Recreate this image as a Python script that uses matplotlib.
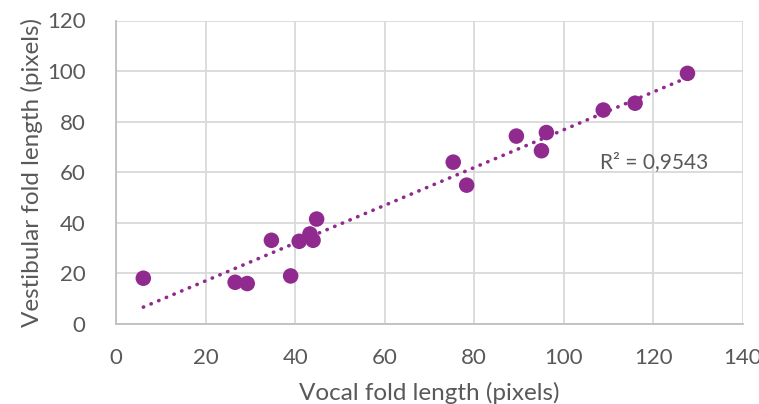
import matplotlib
matplotlib.use("Agg")
import matplotlib.pyplot as plt
import numpy as np

vocal = [6.1, 26.6, 29.3, 34.7, 39.0, 40.9, 43.3, 44.0, 44.8, 75.3, 78.3, 89.4, 95.0, 96.1, 108.8, 115.9, 127.6]
vestibular = [18.1, 16.5, 16.0, 33.1, 19.0, 32.7, 35.6, 33.1, 41.5, 64.0, 54.9, 74.3, 68.5, 75.7, 84.6, 87.3, 99.1]
x_ticks = [0, 20, 40, 60, 80, 100, 120, 140]
y_ticks = [0, 20, 40, 60, 80, 100, 120]
r2_label = "R² = 0,9543"

plt.rcParams['font.family'] = ['Lato', 'DejaVu Sans']
gray = '#595959'
purple = '#912A8F'

fig = plt.figure(figsize=(7.59, 4.04), dpi=100)
ax = fig.add_axes([116/759, 1-324/404, (743-116)/759, (324-20.5)/404])

x = np.array(vocal); y = np.array(vestibular)
m, b = np.polyfit(x, y, 1)
xs = np.array([x.min(), x.max()])
ax.plot(xs, m*xs + b, color=purple, lw=2.6, linestyle=(0, (0.1, 2.2)), dash_capstyle='round', solid_capstyle='round', zorder=2)
ax.scatter(x, y, s=125, color=purple, edgecolors='none', zorder=3)

ax.set_xlim(0, 140); ax.set_ylim(0, 120)
ax.set_xticks(x_ticks); ax.set_yticks(y_ticks)
ax.grid(True, color='#d9d9d9', lw=1.3)
ax.set_axisbelow(True)
for s in ['top', 'right']:
    ax.spines[s].set_visible(False)
for s in ['left', 'bottom']:
    ax.spines[s].set_color('#bfbfbf'); ax.spines[s].set_linewidth(1.3)
ax.tick_params(length=0, labelsize=16, labelcolor=gray)
ax.tick_params(axis='x', pad=17)
ax.tick_params(axis='y', pad=22)
ax.set_xlabel('Vocal fold length (pixels)', fontsize=17.5, color=gray, labelpad=10)
ax.set_ylabel('Vestibular fold length (pixels)', fontsize=17.5, color=gray, labelpad=3)
ax.text(108, 64, r2_label, fontsize=15, color=gray, va='center', ha='left')

fig.savefig('out.png', dpi=100)
